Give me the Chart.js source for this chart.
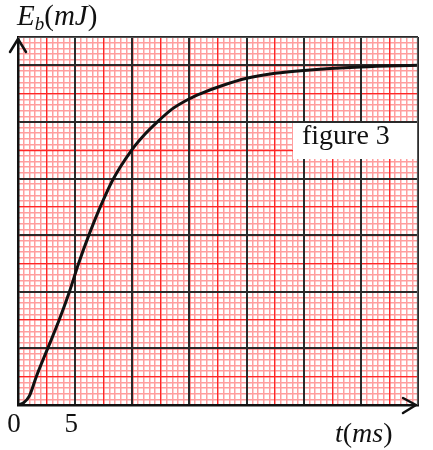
<!DOCTYPE html>
<html>
<head>
<meta charset="utf-8">
<script src="https://cdn.jsdelivr.net/npm/chart.js@4.4.1/dist/chart.umd.min.js"></script>
<style>
  body { margin: 0; background: #fff; }
  #wrap { position: relative; width: 433px; height: 450px; }
  #chart { position: absolute; left: 0; top: 0; }
  .lbl { position: absolute; font-family: "Liberation Serif", "DejaVu Serif", serif; color: #111; white-space: nowrap; line-height: 1; }
  .lbl i { font-style: italic; }
  #ylabel { left: 17px; top: 1px; font-size: 29px; }
  #ylabel sub { font-size: 19px; vertical-align: -5px; font-style: italic; }
  #xlabel { left: 335px; top: 419px; font-size: 28px; }
  #fig { position: absolute; left: 293px; top: 123px; width: 124px; height: 36px; background: #fff;
         font-family: "Liberation Serif", serif; font-size: 28px; line-height: 28px; color: #111; }
  #fig span { position: absolute; left: 9px; top: -2px; }
</style>
</head>
<body>
<div id="wrap">
  <canvas id="chart" width="433" height="450"></canvas>
  <div class="lbl" id="ylabel"><i>E</i><sub>b</sub>(<i>mJ</i>)</div>
  <div class="lbl" id="xlabel"><i>t</i>(<i>ms</i>)</div>
  <div id="fig"><span>figure 3</span></div>
</div>
<script>
  // time in ms and stored energy (in small grid squares)
  const tValues = [0, 0.5, 1.0, 1.6, 2.6, 3.6, 4.5, 5.3, 6.2, 7.2, 8.3, 9.9, 11.0, 12.2, 13.5, 15.0, 16.1, 17.7, 20.0, 22.5, 25.0, 30.0, 35.0];
  const energyValues = [0, 0.4, 1.6, 5.0, 10.0, 15.0, 20.0, 25.0, 30.0, 35.0, 39.8, 44.9, 47.6, 50.0, 52.3, 54.1, 55.1, 56.3, 57.7, 58.6, 59.1, 59.7, 60.0];
  const xTickLabels = { 0: "0", 5: "5" };

  const tMax = 35;
  const eMax = 65;

  const points = tValues.map((t, i) => ({ x: t, y: energyValues[i] }));

  // hidden helper scales only used for the three layers of graph paper
  function paperScale(axis, position, step, color, width, z) {
    return {
      type: "linear",
      position: position,
      axis: axis,
      min: 0,
      max: axis === "x" ? tMax : eMax,
      ticks: { display: false, stepSize: step, autoSkip: false },
      border: { display: false },
      grid: { color: color, lineWidth: width, drawTicks: false, z: z },
      afterFit: (scale) => {
        if (axis === "x") scale.height = 0;
        else scale.width = 0;
      },
    };
  }

  // arrow heads plus the thin outer frame on top and right
  const axisArrows = {
    id: "axisArrows",
    afterDraw(chart) {
      const { ctx, chartArea } = chart;
      const { left, right, top, bottom } = chartArea;
      ctx.save();
      ctx.strokeStyle = "#555";
      ctx.lineWidth = 1.2;
      ctx.beginPath();
      ctx.moveTo(left, top + 0.5);
      ctx.lineTo(right, top + 0.5);
      ctx.moveTo(right - 0.5, top);
      ctx.lineTo(right - 0.5, bottom);
      ctx.stroke();

      ctx.strokeStyle = "#111";
      ctx.lineWidth = 2.5;
      ctx.lineCap = "round";
      ctx.lineJoin = "round";
      ctx.beginPath();
      ctx.moveTo(left - 8, top + 15);
      ctx.lineTo(left, top + 2);
      ctx.lineTo(left + 8, top + 15);
      ctx.moveTo(right - 15, bottom - 7);
      ctx.lineTo(right - 2, bottom);
      ctx.lineTo(right - 15, bottom + 8);
      ctx.stroke();
      ctx.restore();
    },
  };

  const ctx = document.getElementById("chart").getContext("2d");

  new Chart(ctx, {
    type: "line",
    data: {
      datasets: [
        {
          data: points,
          xAxisID: "x",
          yAxisID: "y",
          borderColor: "#111",
          borderWidth: 3,
          pointRadius: 0,
          cubicInterpolationMode: "monotone",
          fill: false,
        },
      ],
    },
    options: {
      responsive: false,
      devicePixelRatio: 1,
      animation: false,
      layout: { padding: { left: 18, right: 15, top: 37, bottom: 0 } },
      plugins: { legend: { display: false }, tooltip: { enabled: false } },
      scales: {
        xFine: paperScale("x", "bottom", 0.5, "#ff9e9e", 1.5, -4),
        yFine: paperScale("y", "left", 1, "#ff9e9e", 1.5, -4),
        xMid: paperScale("x", "bottom", 2.5, "#ff2626", 1.3, -3),
        yMid: paperScale("y", "left", 5, "#ff2626", 1.3, -3),
        x: {
          type: "linear",
          position: "bottom",
          min: 0,
          max: tMax,
          ticks: {
            stepSize: 5,
            autoSkip: false,
            maxRotation: 0,
            padding: 4,
            labelOffset: -4,
            color: "#111",
            font: { family: "'Liberation Serif', serif", size: 27 },
            callback: (value) => xTickLabels[value] || "",
          },
          border: { display: true, color: "#111", width: 2.5 },
          grid: { color: "#2a2a2a", lineWidth: 2, drawTicks: false, z: -2 },
          afterFit: (scale) => { scale.height = 45; },
        },
        y: {
          type: "linear",
          position: "left",
          min: 0,
          max: eMax,
          ticks: { display: false, stepSize: 10, autoSkip: false },
          border: { display: true, color: "#111", width: 2.5 },
          grid: { color: "#2a2a2a", lineWidth: 2, drawTicks: false, z: -2 },
          afterFit: (scale) => { scale.width = 0; },
        },
      },
    },
    plugins: [axisArrows],
  });
</script>
</body>
</html>
